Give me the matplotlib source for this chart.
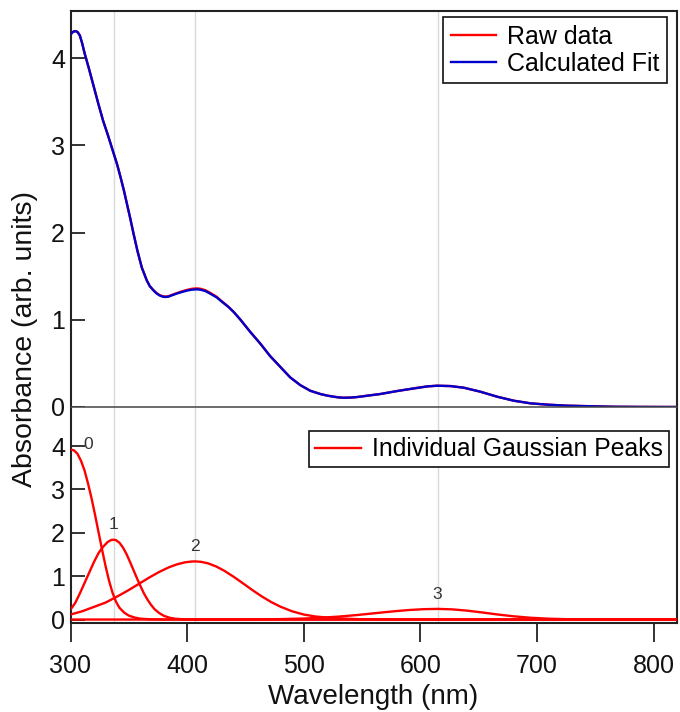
import matplotlib
matplotlib.use('Agg')
import matplotlib.pyplot as plt

plt.rcParams['font.family'] = ['Liberation Sans', 'DejaVu Sans']

# ---------------- data ----------------
wl_top = [300, 302, 304, 306, 308, 310, 312, 316, 320, 324, 328, 332, 336, 340,
          343, 346, 348.2, 351.1, 354, 357.4, 361.1, 365.4, 368, 371.1, 373.5, 376.2,
          378.5, 381.1, 384, 386.9, 391, 395.4, 400, 404, 408.3, 411.2, 415.5, 419.7,
          425.5, 428.3, 435.5, 440, 445.5, 454.1, 462.7, 471.2, 479.8, 488.4, 497,
          505.6, 514.2, 520, 525.6, 530, 534.2, 540, 545.7, 554.2, 565.7, 580, 594.3,
          605.8, 614.3, 625.8, 637.2, 651.5, 665.8, 680.1, 694.4, 708.8, 725.9, 748.8,
          765.9, 790, 820]
fit_vals = [4.27, 4.30, 4.31, 4.30, 4.26, 4.17, 4.06, 3.87, 3.67, 3.47, 3.28, 3.12, 2.95,
            2.78, 2.63, 2.47, 2.34, 2.17, 1.99, 1.79, 1.60, 1.451, 1.385, 1.337, 1.305,
            1.28, 1.267, 1.261, 1.265, 1.28, 1.30, 1.318, 1.335, 1.345, 1.349, 1.345,
            1.33, 1.30, 1.255, 1.223, 1.146, 1.088, 1.005, 0.861, 0.728, 0.583, 0.461,
            0.339, 0.251, 0.186, 0.149, 0.131, 0.118, 0.110, 0.106, 0.108, 0.114, 0.129,
            0.149, 0.183, 0.213, 0.236, 0.244, 0.240, 0.221, 0.175, 0.118, 0.072, 0.042,
            0.027, 0.015, 0.008, 0.003, 0.001, 0.0]
raw_vals = [4.27, 4.30, 4.31, 4.30, 4.26, 4.17, 4.06, 3.87, 3.67, 3.47, 3.28, 3.12, 2.95,
            2.78, 2.63, 2.47, 2.34, 2.17, 1.99, 1.79, 1.60, 1.451, 1.385, 1.34, 1.31,
            1.285, 1.272, 1.266, 1.27, 1.285, 1.305, 1.325, 1.343, 1.355, 1.36, 1.356,
            1.34, 1.31, 1.262, 1.228, 1.148, 1.088, 1.003, 0.861, 0.726, 0.583, 0.461,
            0.339, 0.251, 0.186, 0.149, 0.131, 0.118, 0.110, 0.106, 0.108, 0.114, 0.129,
            0.149, 0.183, 0.213, 0.236, 0.244, 0.240, 0.221, 0.175, 0.118, 0.072, 0.042,
            0.027, 0.015, 0.008, 0.003, 0.001, 0.0]

peak0_wl = [300, 303, 306, 309, 312, 315, 318, 321, 324, 327, 330, 333, 336, 339, 342, 346,
            350, 355, 360, 368, 380, 820]
peak0_v = [3.92, 3.90, 3.82, 3.66, 3.44, 3.14, 2.80, 2.42, 2.02, 1.62, 1.24, 0.90, 0.62,
           0.41, 0.27, 0.16, 0.09, 0.045, 0.02, 0.006, 0.0, 0.0]

peak1_wl = [300, 304, 308, 312, 316, 320, 324, 328, 332, 335, 337, 339, 342, 345, 348, 351,
            354, 357, 360, 363, 366, 369, 372, 376, 380, 385, 390, 397, 410, 820]
peak1_v = [0.23, 0.38, 0.60, 0.84, 1.08, 1.32, 1.53, 1.68, 1.79, 1.835, 1.84, 1.83, 1.77,
           1.66, 1.51, 1.33, 1.14, 0.95, 0.77, 0.60, 0.46, 0.34, 0.24, 0.15, 0.086, 0.041,
           0.018, 0.005, 0.0, 0.0]

peak2_wl = [300, 310, 320, 330, 340, 350, 360, 368, 376, 384, 391, 398, 404, 407, 412, 418,
            425, 432, 440, 448, 456, 464, 472, 480, 490, 500, 510, 520, 530, 545, 560, 580,
            820]
peak2_v = [0.115, 0.19, 0.29, 0.39, 0.53, 0.68, 0.845, 0.976, 1.096, 1.20, 1.27, 1.318,
           1.338, 1.34, 1.33, 1.295, 1.222, 1.122, 0.984, 0.832, 0.678, 0.533, 0.404,
           0.296, 0.19, 0.115, 0.07, 0.045, 0.027, 0.01, 0.004, 0.0, 0.0]

peak3_wl = [300, 440, 460, 480, 500, 515, 530, 545, 560, 575, 590, 603, 615, 627, 640, 653,
            666, 680, 695, 710, 725, 740, 760, 820]
peak3_v = [0.0, 0.0, 0.003, 0.0096, 0.023, 0.041, 0.068, 0.102, 0.143, 0.184, 0.219, 0.239,
           0.245, 0.235, 0.205, 0.163, 0.117, 0.074, 0.040, 0.019, 0.008, 0.003, 0.001, 0.0]

peak_labels = ['0', '1', '2', '3']
label_x = [315, 337, 407, 614]
label_y = [4.03, 2.19, 1.69, 0.58]

grid_positions = [337, 407, 615]
x_ticks = [300, 400, 500, 600, 700, 800]
y_ticks = [0, 1, 2, 3, 4]

# ---------------- figure ----------------
fig = plt.figure(figsize=(6.8, 7.12), dpi=100)
left = 70.5 / 680
width = (677 - 70.5) / 680
ax1 = fig.add_axes([left, 1 - 407 / 712, width, (407 - 11) / 712])
ax2 = fig.add_axes([left, 1 - 623 / 712, width, (623 - 407) / 712])

for ax in (ax1, ax2):
    for g in grid_positions:
        ax.axvline(g, color='#d9d9d9', lw=1.0, zorder=0)
    ax.set_xlim(300, 820)
    for s in ['left', 'right', 'top', 'bottom']:
        ax.spines[s].set_linewidth(1.5)
        ax.spines[s].set_color('#222222')
    ax.set_yticks(y_ticks)
    ax.tick_params(axis='y', direction='in', length=10, width=1.2, labelsize=18, pad=4,
                   colors='#111111')

ax1.set_ylim(0, 4.54)
ax2.set_ylim(-0.08, 4.9)

ax1.spines['bottom'].set_visible(False)
ax2.spines['top'].set_linewidth(1.1)
ax2.spines['top'].set_color('#444444')
ax1.tick_params(axis='x', bottom=False, labelbottom=False)

ax1.plot(wl_top, raw_vals, color='#ff0000', lw=1.7, label='Raw data', zorder=3)
ax1.plot(wl_top, fit_vals, color='#0000cc', lw=1.7, label='Calculated Fit', zorder=4)

leg1 = ax1.legend(loc='upper right', bbox_to_anchor=(0.9835, 0.9848), borderaxespad=0,
                  fontsize=18, frameon=True, fancybox=False, framealpha=1,
                  edgecolor='#111111', handlelength=1.8, handletextpad=0.45,
                  labelspacing=0.12, borderpad=0.3)
leg1.get_frame().set_linewidth(1.2)

pk_line = None
for wl, v in [(peak0_wl, peak0_v), (peak1_wl, peak1_v), (peak2_wl, peak2_v), (peak3_wl, peak3_v)]:
    ln, = ax2.plot(wl, v, color='#ff0000', lw=1.7, zorder=3)
    if pk_line is None:
        pk_line = ln

for t, x, y in zip(peak_labels, label_x, label_y):
    ax2.text(x, y, t, fontsize=12.5, color='#333333', ha='center', va='center')

leg2 = ax2.legend([pk_line], ['Individual Gaussian Peaks'], loc='upper right',
                  bbox_to_anchor=(0.9868, 0.889), borderaxespad=0, fontsize=17.8,
                  frameon=True, fancybox=False, framealpha=1, edgecolor='#111111',
                  handlelength=1.85, handletextpad=0.45, borderpad=0.25)
leg2.get_frame().set_linewidth(1.2)

ax2.set_xticks(x_ticks)
ax2.tick_params(axis='x', direction='out', length=14, width=1.2, labelsize=18, pad=8,
                colors='#111111')

fig.text(25 / 680, 1 - 339 / 712, 'Absorbance (arb. units)', rotation=90, fontsize=20.5,
         ha='center', va='center', color='#111111')
fig.text(373 / 680, 1 - 697 / 712, 'Wavelength (nm)', fontsize=20, ha='center',
         va='center', color='#111111')

fig.savefig('out.png', dpi=100)
